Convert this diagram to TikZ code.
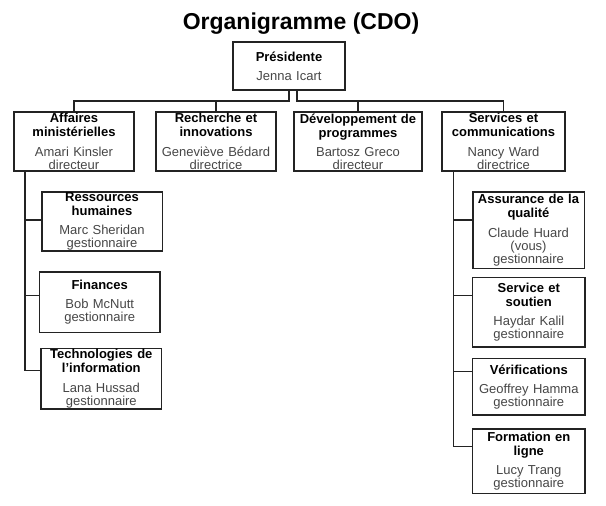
\documentclass[tikz,border=0pt]{standalone}
\usepackage{fontspec}
\setmainfont{Liberation Sans}
\usepackage{tikz}
\definecolor{orgline}{RGB}{35,35,35}
\definecolor{orgtext}{RGB}{70,70,70}
\newcommand{\ttl}[1]{\textbf{\color{black}#1}}

\begin{document}
\begin{tikzpicture}[x=1pt, y=-1pt,
    orgbox/.style={draw=orgline, line width=1.6pt, rectangle, inner sep=0pt, align=center, text=orgtext, font=\fontsize{13}{13}\selectfont},
    link/.style={draw=orgline, line width=1.5pt}]
  \useasboundingbox (0,0) rectangle (606,506);
  \node[font=\bfseries\fontsize{23}{23}\selectfont, anchor=base] (titre) at (301,30) {Organigramme (CDO)};
  \node[orgbox, text width=112pt, minimum height=48pt] (pres) at (289,66) {\ttl{Présidente}\\[6pt]Jenna Icart};
  % directions
  \node[orgbox, text width=120pt, minimum height=59pt] (aff) at (74,141.5) {\ttl{Affaires}\\[1pt]\ttl{ministérielles}\\[6.4pt]Amari Kinsler\\directeur};
  \node[orgbox, text width=120pt, minimum height=59pt] (rech) at (216,141.5) {\ttl{Recherche et}\\[1pt]\ttl{innovations}\\[6.4pt]Geneviève Bédard\\directrice};
  \node[orgbox, text width=128pt, minimum height=59pt] (dev) at (358,141.5) {\ttl{Développement de}\\[1pt]\ttl{programmes}\\[6.4pt]Bartosz Greco\\directeur};
  \node[orgbox, text width=123pt, minimum height=59pt] (serv) at (503.5,141.5) {\ttl{Services et}\\[1pt]\ttl{communications}\\[6.4pt]Nancy Ward\\directrice};
  % gestionnaires
  \node[orgbox, text width=120.6pt, minimum height=59pt] (rh) at (102,221.2) {\ttl{Ressources}\\[1pt]\ttl{humaines}\\[6.4pt]Marc Sheridan\\gestionnaire};
  \node[orgbox, text width=120.7pt, minimum height=60.6pt] (fin) at (99.7,302) {\ttl{Finances}\\[6pt]Bob McNutt\\gestionnaire};
  \node[orgbox, text width=120.7pt, minimum height=60.7pt] (ti) at (101.3,378.7) {\ttl{Technologies de}\\[1pt]\ttl{l’information}\\[6.4pt]Lana Hussad\\gestionnaire};
  \node[orgbox, text width=111.6pt, minimum height=76.6pt] (aq) at (528.5,230) {\ttl{Assurance de la}\\[1pt]\ttl{qualité}\\[6.4pt]Claude Huard\\(vous)\\gestionnaire};
  \node[orgbox, text width=112.3pt, minimum height=69.4pt] (sout) at (528.8,312) {\ttl{Service et}\\[1pt]\ttl{soutien}\\[6.4pt]Haydar Kalil\\gestionnaire};
  \node[orgbox, text width=112.3pt, minimum height=56.7pt] (verif) at (528.8,386.7) {\ttl{Vérifications}\\[6pt]Geoffrey Hamma\\gestionnaire};
  \node[orgbox, text width=112.3pt, minimum height=64.3pt] (form) at (528.8,461.2) {\ttl{Formation en}\\[1pt]\ttl{ligne}\\[6.4pt]Lucy Trang\\gestionnaire};
  % liaisons
  \coordinate (busG) at (289,101);
  \coordinate (busD) at (297,101);
  \draw[link] (pres.south) -- (busG) -| (aff.north);
  \draw[link] (busG) -| (rech.north);
  \draw[link] (pres.south -| busD) -- (busD) -| (serv.north);
  \draw[link] (busD) -| (dev.north);
  \coordinate (tg) at ([xshift=11.7pt]aff.south west);
  \coordinate (td) at ([xshift=12.3pt]serv.south west);
  \foreach \n/\dy in {rh/1.2, fin/6.3, ti/8}
    \draw[link] (tg) |- ([yshift=\dy pt]\n.west);
  \foreach \n/\dy in {aq/10, sout/16.3, verif/15, form/14.5}
    \draw[link] (td) |- ([yshift=\dy pt]\n.west);
\end{tikzpicture}
\end{document}
